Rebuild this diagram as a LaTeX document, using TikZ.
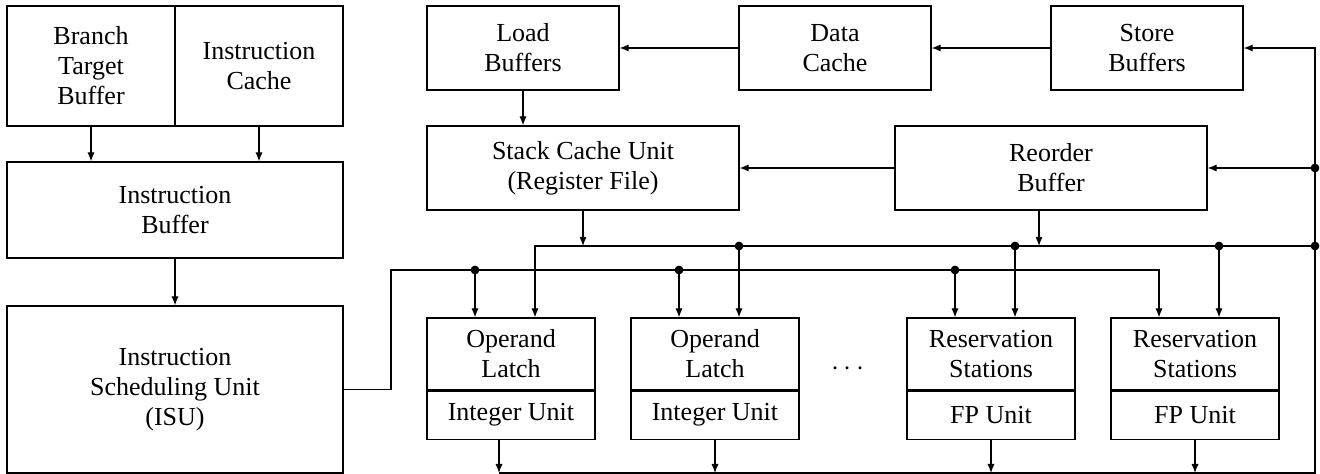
\documentclass[tikz,border=0pt]{standalone}
\usepackage{fontspec}
\setmainfont{Liberation Serif}
\usetikzlibrary{arrows.meta,positioning}
\tikzset{
  blockbox/.style={
    draw,
    line width=0.6pt,
    inner sep=0pt,
    align=center,
    font=\fontsize{13}{15}\selectfont
  },
  unitbox/.style={
    blockbox,
    minimum width=84pt
  },
  arrow/.style={
    -{Latex[length=4.5pt,width=3.6pt]},
    line width=0.6pt
  },
  wire/.style={
    line width=0.6pt
  }
}

\begin{document}
\begin{tikzpicture}[x=0.5pt,y=-0.5pt]
\useasboundingbox (0,0) rectangle (1320,474);
% front end
\node[blockbox, minimum width=84pt, minimum height=60pt] (btb) at (91,66) {Branch\\Target\\Buffer};
\node[blockbox, minimum width=84pt, minimum height=60pt] (icache) at (259,66) {Instruction\\Cache};
\node[blockbox, minimum width=168pt, minimum height=48pt] (ibuf) at (175,210) {Instruction\\Buffer};
\node[blockbox, minimum width=168pt, minimum height=83.5pt] (isu) at (175,389.5) {Instruction\\Scheduling Unit\\(ISU)};
% memory side
\node[blockbox, minimum width=96pt, minimum height=42pt] (lbuf) at (523,48) {Load\\Buffers};
\node[blockbox, minimum width=96pt, minimum height=42pt] (dcache) at (835,48) {Data\\Cache};
\node[blockbox, minimum width=96pt, minimum height=42pt] (sbuf) at (1147,48) {Store\\Buffers};
\node[blockbox, minimum width=156pt, minimum height=42pt] (scu) at (583,168) {Stack Cache Unit\\(Register File)};
\node[blockbox, minimum width=156pt, minimum height=42pt] (rob) at (1051,168) {Reorder\\Buffer};
% execution units
\node[unitbox, minimum height=36pt] (ol1) at (511,354) {Operand\\Latch};
\node[unitbox, minimum height=24pt, below=0pt of ol1] (iu1) {Integer Unit};
\node[unitbox, minimum height=36pt] (ol2) at (715,354) {Operand\\Latch};
\node[unitbox, minimum height=24pt, below=0pt of ol2] (iu2) {Integer Unit};
\node[unitbox, minimum height=36pt] (rs1) at (991,354) {Reservation\\Stations};
\node[unitbox, minimum height=24pt, below=0pt of rs1] (fp1) {FP Unit};
\node[unitbox, minimum height=36pt] (rs2) at (1195,354) {Reservation\\Stations};
\node[unitbox, minimum height=24pt, below=0pt of rs2] (fp2) {FP Unit};
\node[font=\fontsize{15}{15}\selectfont, inner sep=0pt] (more) at (848,369) {$\cdots$};

% bus corners and taps
\coordinate (ubusL) at (535,246);
\coordinate (ubusR) at (1315,246);
\coordinate (lbusL) at (391,270);
\coordinate (lbusR) at (1159,270);
\coordinate (rbusT) at (1315,48);
\coordinate (rbusB) at (1315,473);
\coordinate (rjn) at (1315,168);
\coordinate (robtap) at (1039,246);
\coordinate (lt1) at (475,270);
\coordinate (lt2) at (679,270);
\coordinate (lt3) at (955,270);
\coordinate (ut1) at (739,246);
\coordinate (ut2) at (1015,246);
\coordinate (ut3) at (1219,246);
\coordinate (o1) at (499,473);
\coordinate (o2) at (715,473);
\coordinate (o3) at (991,473);
\coordinate (o4) at (1195,473);

\draw[arrow] (btb.south) -- (btb.south |- ibuf.north);
\draw[arrow] (icache.south) -- (icache.south |- ibuf.north);
\draw[arrow] (ibuf) -- (isu);
\draw[arrow] (dcache) -- (lbuf);
\draw[arrow] (sbuf) -- (dcache);
\draw[arrow] (lbuf) -- (lbuf |- scu.north);
\draw[arrow] (rob) -- (scu);
\draw[arrow] (scu.south) -- (scu.south |- ubusL);
\draw[arrow] (robtap |- rob.south) -- (robtap);

% issue bus from the ISU
\draw[arrow] (isu.east) -- (isu.east -| lbusL) -- (lbusL) -- (lbusR) -- (lbusR |- rs2.north);
\draw[arrow] (lt1) -- (lt1 |- ol1.north);
\draw[arrow] (lt2) -- (lt2 |- ol2.north);
\draw[arrow] (lt3) -- (lt3 |- rs1.north);

% operand bus
\draw[arrow] (ubusR) -- (ubusL) -- (ubusL |- ol1.north);
\draw[arrow] (ut1) -- (ut1 |- ol2.north);
\draw[arrow] (ut2) -- (ut2 |- rs1.north);
\draw[arrow] (ut3) -- (ut3 |- rs2.north);

% result bus
\draw[arrow] (o1 |- iu1.south) -- (o1);
\draw[arrow] (o2 |- iu2.south) -- (o2);
\draw[arrow] (o3 |- fp1.south) -- (o3);
\draw[arrow] (o4 |- fp2.south) -- (o4);
\draw[arrow] (o1) -- (rbusB) -- (rbusT) -- (sbuf);
\draw[arrow] (rjn) -- (rob);

\foreach \p in {lt1,lt2,lt3,ut1,ut2,ut3,ubusR,rjn}
  \fill (\p) circle (2.2pt);
\end{tikzpicture}
\end{document}
